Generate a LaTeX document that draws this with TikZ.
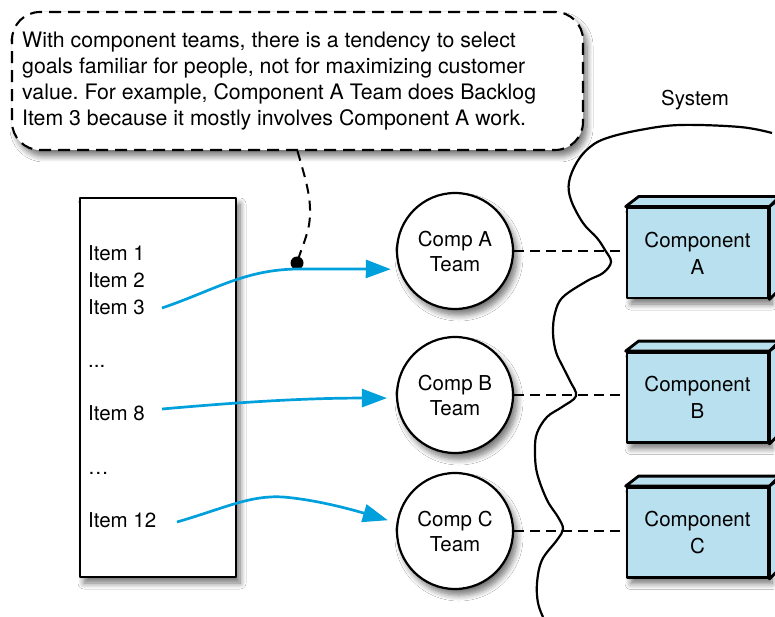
\documentclass[tikz,border=0pt]{standalone}
\usepackage{fontspec}
\setmainfont{TeX Gyre Heros}
\usetikzlibrary{arrows.meta,shadows.blur}

\definecolor{flowblue}{RGB}{0,160,220}
\definecolor{compfill}{RGB}{184,224,238}

\begin{document}
\frenchspacing
\begin{tikzpicture}[x=1pt,y=-1pt,line join=round,
  txt/.style={font=\fontsize{20.5}{26}\selectfont, inner sep=0pt},
  softshadow/.style={blur shadow={shadow xshift=4pt, shadow yshift=-6pt,
      shadow blur radius=6pt, shadow blur steps=8, shadow opacity=55}},
  notebox/.style={draw, line width=2.1pt, dash pattern=on 12pt off 7pt,
      rounded corners=28pt, fill=white, minimum width=571pt,
      minimum height=138pt, softshadow},
  backlogbox/.style={draw, line width=2.4pt, fill=white, minimum width=156pt,
      minimum height=379pt, softshadow},
  team/.style={draw, circle, line width=2.2pt, fill=white, minimum size=116pt,
      inner sep=0pt, align=center, font=\fontsize{20.5}{25}\selectfont,
      softshadow},
  comp/.style={draw, line width=2.8pt, fill=compfill, minimum width=141pt,
      minimum height=90pt, inner sep=0pt, align=center,
      font=\fontsize{20.5}{27}\selectfont, softshadow},
  face/.style={draw, line width=2.8pt, fill=compfill},
  link/.style={line width=2.2pt, dash pattern=on 10pt off 6pt},
  pointer/.style={line width=2pt, dash pattern=on 10pt off 7pt},
  flow/.style={draw=flowblue, line width=2.7pt,
      -{Triangle[length=25pt,width=18pt]}},
  item/.style={txt, anchor=base west},
]
\useasboundingbox (0,0) rectangle (775,617);
\fill[white] (0,0) rectangle (775,617);

% system boundary
\draw[line width=2.2pt] plot[smooth, tension=0.6] coordinates {
  (772,133) (740,127) (680,125) (640,130) (607,138) (590,147) (577,162)
  (569,182) (571,200) (583,223) (597,238) (605,250) (611,262) (603,273)
  (587,281) (563,297) (555,313) (553,333) (556,352) (563,367) (570,381)
  (576,396) (562,407) (547,417) (537,433) (535,450) (537,473) (547,500)
  (558,517) (563,529) (557,540) (542,560) (537,583) (538,603) (543,617)};
\node[txt] (system) at (695,100) {System};

% callout
\node[notebox] (note) at (297.5,81) {};
\node[txt, anchor=west, align=left, font=\fontsize{21.3}{26}\selectfont]
  (notetext) at (22,81)
  {With component teams, there is a tendency to select\\
   goals familiar for people, not for maximizing customer\\
   value. For example, Component A Team does Backlog\\
   Item 3 because it mostly involves Component A work.};

% backlog
\node[backlogbox] (backlog) at (158,387.5) {};
\node[item] (i1) at (88,260.3) {Item 1};
\node[item] (i2) at (88,287.3) {Item 2};
\node[item] (i3) at (88,314.3) {Item 3};
\node[item] (d1) at (88,367) {...};
\node[item] (i8) at (88,420.3) {Item 8};
\node[item] (d2) at (88,474) {\ldots};
\node[item] (i12) at (88,527.3) {Item 12};

% teams
\node[team] (ta) at (455,251) {Comp A\\Team};
\node[team] (tb) at (455,395) {Comp B\\Team};
\node[team] (tc) at (455,531) {Comp C\\Team};

% components
\foreach \n/\y/\l in {ca/253/A, cb/397.5/B, cc/532.5/C}{
  \node[comp] (\n) at (697.5,\y) {Component\\\l};
  \draw[face] (\n.north west) -- ++(13,-10) -- ++(141,0) -- (\n.north east) -- cycle;
  \draw[face] (\n.north east) -- ++(13,-10) -- ++(0,90) -- (\n.south east) -- cycle;
}

% team to component links
\draw[link] (ta.east) -- (ta.east -| ca.west);
\draw[link] (tb.east) -- (tb.east -| cb.west);
\draw[link] (tc.east) -- (tc.east -| cc.west);

% callout pointer
\node[circle, fill, inner sep=0pt, minimum size=13pt] (pin) at (297,263) {};
\draw[pointer] (note.south) .. controls (305,178) and (313,200) .. (309,225)
  .. controls (306,240) and (300,252) .. (pin.center);

% backlog items to teams
\coordinate (s3) at (162,308);
\coordinate (s8) at (162,409);
\coordinate (s12) at (177,522);
\draw[flow, shorten >=8pt] (s3) .. controls (215,290) and (245,269) .. (300,269)
  .. controls (340,269) and (370,269) .. (ta.198);
\draw[flow, shorten >=9pt] (s8) .. controls (230,403) and (300,398) .. (tb.183);
\draw[flow, shorten >=9pt] (s12) .. controls (225,508) and (250,495) .. (283,497)
  .. controls (320,500) and (360,512) .. (tc.172);
\end{tikzpicture}
\end{document}
